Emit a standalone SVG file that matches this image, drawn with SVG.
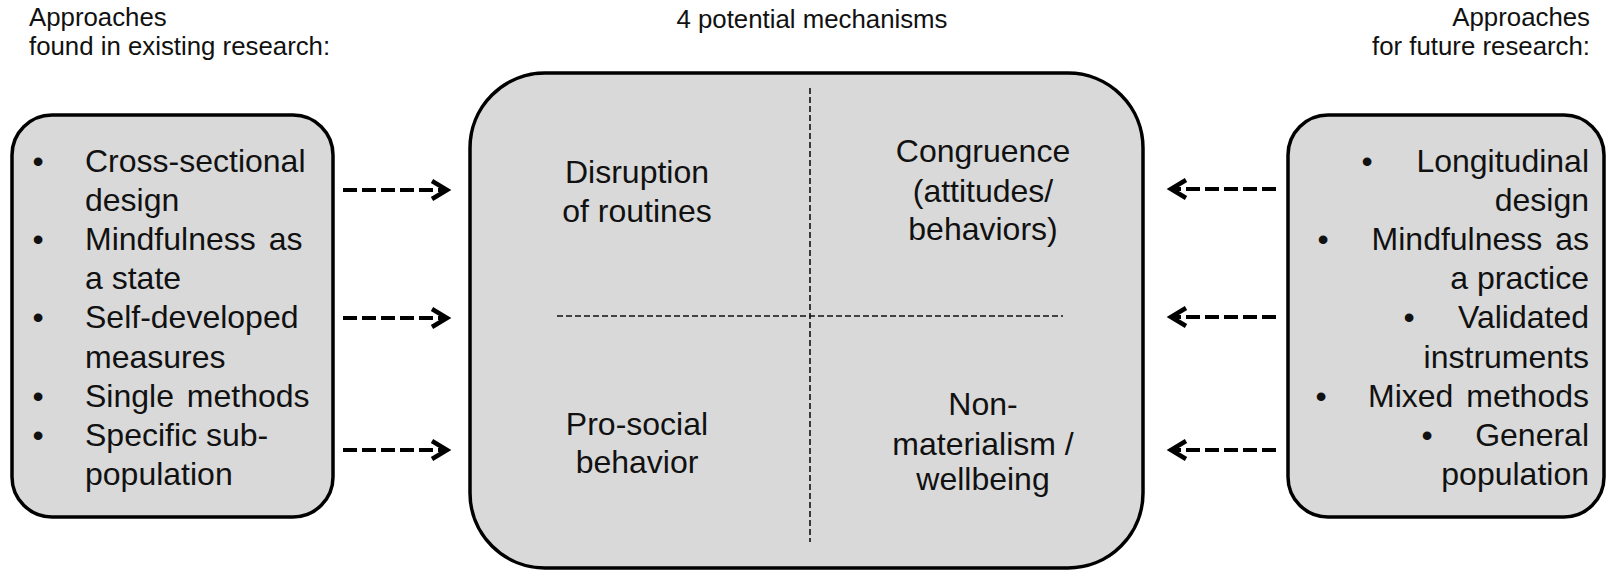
<svg xmlns="http://www.w3.org/2000/svg" width="1608" height="571" viewBox="0 0 1608 571">
  <style>
    .box { fill: #d9d9d9; stroke: #000; stroke-width: 3.5; }
    .title { font-family: "Liberation Sans", Arial, sans-serif; font-size: 25.8px; fill: #111; }
    .item { font-family: "Liberation Sans", Arial, sans-serif; font-size: 32px; fill: #111; }
    .wide { word-spacing: 4px; }
    .mech { font-family: "Liberation Sans", Arial, sans-serif; font-size: 32px; fill: #111; text-anchor: middle; }
    .divider { stroke: #111; stroke-width: 1.6; stroke-dasharray: 6 3; fill: none; }
    .link { stroke: #000; stroke-width: 4; stroke-dasharray: 14 5; fill: none; }
    .head { stroke: #000; stroke-width: 4.5; fill: none; stroke-linecap: butt; stroke-linejoin: miter; }
  </style>
  <defs>
    <marker id="chevron" markerUnits="userSpaceOnUse" markerWidth="24" markerHeight="24" viewBox="-20 -12 24 24" refX="0" refY="0" orient="auto">
      <polyline class="head" points="-16,-9 -1,0 -16,9"/>
    </marker>
  </defs>

  <rect width="1608" height="571" fill="#fff"/>

  <!-- headings -->
  <g id="heading-left">
    <text class="title" x="29" y="26">Approaches</text>
    <text class="title" x="29" y="55">found in existing research:</text>
  </g>
  <g id="heading-center">
    <text class="title" x="812" y="28" text-anchor="middle">4 potential mechanisms</text>
  </g>
  <g id="heading-right">
    <text class="title" x="1590" y="26" text-anchor="end">Approaches</text>
    <text class="title" x="1590" y="55" text-anchor="end">for future research:</text>
  </g>

  <!-- existing approaches -->
  <g id="existing">
    <rect class="box" x="12" y="115" width="321" height="402" rx="40" ry="40"/>
    <g class="item">
      <text x="38" y="172" text-anchor="middle">•</text>
      <text x="85" y="172">Cross-sectional</text>
      <text x="85" y="211">design</text>
      <text x="38" y="250" text-anchor="middle">•</text>
      <text class="wide" x="85" y="250">Mindfulness as</text>
      <text x="85" y="289">a state</text>
      <text x="38" y="328" text-anchor="middle">•</text>
      <text x="85" y="328">Self-developed</text>
      <text x="85" y="368">measures</text>
      <text x="38" y="407" text-anchor="middle">•</text>
      <text class="wide" x="85" y="407">Single methods</text>
      <text x="38" y="446" text-anchor="middle">•</text>
      <text x="85" y="446">Specific sub-</text>
      <text x="85" y="485">population</text>
    </g>
  </g>

  <!-- mechanisms: four quadrants split by dashed lines -->
  <g id="mechanisms">
    <rect class="box" x="470" y="73" width="673" height="495" rx="75" ry="75"/>
    <line class="divider" x1="810" y1="88" x2="810" y2="542"/>
    <line class="divider" x1="557" y1="316" x2="1063" y2="316"/>
    <g id="disruption">
      <text class="mech" x="637" y="183">Disruption</text>
      <text class="mech" x="637" y="222">of routines</text>
    </g>
    <g id="congruence">
      <text class="mech" x="983" y="162">Congruence</text>
      <text class="mech" x="983" y="202">(attitudes/</text>
      <text class="mech" x="983" y="240">behaviors)</text>
    </g>
    <g id="prosocial">
      <text class="mech" x="637" y="435">Pro-social</text>
      <text class="mech" x="637" y="473">behavior</text>
    </g>
    <g id="nonmaterialism">
      <text class="mech" x="983" y="415">Non-</text>
      <text class="mech" x="983" y="455">materialism /</text>
      <text class="mech" x="983" y="490">wellbeing</text>
    </g>
  </g>

  <!-- future approaches -->
  <g id="future">
    <rect class="box" x="1288" y="115" width="316" height="402" rx="40" ry="40"/>
    <g class="item">
      <text x="1367" y="172" text-anchor="middle">•</text>
      <text x="1589" y="172" text-anchor="end">Longitudinal</text>
      <text x="1589" y="211" text-anchor="end">design</text>
      <text x="1323" y="250" text-anchor="middle">•</text>
      <text class="wide" x="1589" y="250" text-anchor="end">Mindfulness as</text>
      <text x="1589" y="289" text-anchor="end">a practice</text>
      <text x="1409" y="328" text-anchor="middle">•</text>
      <text x="1589" y="328" text-anchor="end">Validated</text>
      <text x="1589" y="368" text-anchor="end">instruments</text>
      <text x="1321" y="407" text-anchor="middle">•</text>
      <text class="wide" x="1589" y="407" text-anchor="end">Mixed methods</text>
      <text x="1427" y="446" text-anchor="middle">•</text>
      <text x="1589" y="446" text-anchor="end">General</text>
      <text x="1589" y="485" text-anchor="end">population</text>
    </g>
  </g>

  <!-- connectors -->
  <g id="connectors">
    <path class="link" d="M343 190 H448" marker-end="url(#chevron)"/>
    <path class="link" d="M343 318 H448" marker-end="url(#chevron)"/>
    <path class="link" d="M343 450 H448" marker-end="url(#chevron)"/>
    <path class="link" d="M1276 189 H1170" marker-end="url(#chevron)"/>
    <path class="link" d="M1276 317 H1170" marker-end="url(#chevron)"/>
    <path class="link" d="M1276 450 H1170" marker-end="url(#chevron)"/>
  </g>
</svg>
